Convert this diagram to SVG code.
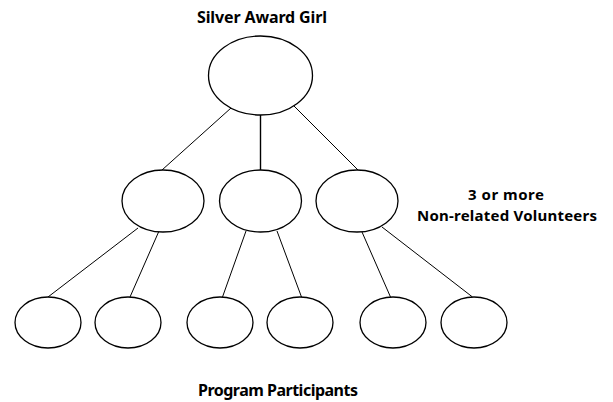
<svg xmlns="http://www.w3.org/2000/svg" width="613" height="402" viewBox="0 0 613 402">
<style>
.n{fill:#fff;stroke:#000;stroke-width:1.3}
.c line{stroke:#000;stroke-width:1}
.t{font-family:"Noto Sans","Open Sans",sans-serif;font-weight:bold;font-size:16px;fill:#000;text-anchor:middle}
.s{font-size:15px}
</style>
<rect width="613" height="402" fill="#fff"/>
<g class="c" id="connectors">
<line x1="231" y1="108" x2="162" y2="170"/>
<line x1="260.5" y1="115" x2="260.5" y2="170" style="stroke-width:1.4"/>
<line x1="294" y1="106" x2="358" y2="170"/>
<line x1="138" y1="228" x2="48" y2="297"/>
<line x1="159" y1="231" x2="130" y2="297"/>
<line x1="246" y1="231" x2="222.5" y2="297"/>
<line x1="277" y1="231" x2="301.5" y2="297"/>
<line x1="362" y1="232" x2="390.5" y2="297"/>
<line x1="382" y1="227" x2="472.5" y2="297"/>
</g>
<g id="top"><ellipse class="n" cx="260.5" cy="75.5" rx="52" ry="39.5"/></g>
<g id="mid1"><ellipse class="n" cx="163" cy="201" rx="41" ry="31"/></g>
<g id="mid2"><ellipse class="n" cx="260.5" cy="201" rx="41" ry="31"/></g>
<g id="mid3"><ellipse class="n" cx="357" cy="201" rx="41" ry="31"/></g>
<g id="b1"><ellipse class="n" cx="48" cy="322.5" rx="33" ry="25.5"/></g>
<g id="b2"><ellipse class="n" cx="128" cy="322.5" rx="33" ry="25.5"/></g>
<g id="b3"><ellipse class="n" cx="220" cy="322.5" rx="33" ry="25.5"/></g>
<g id="b4"><ellipse class="n" cx="300" cy="322.5" rx="33" ry="25.5"/></g>
<g id="b5"><ellipse class="n" cx="393" cy="322.5" rx="33" ry="25.5"/></g>
<g id="b6"><ellipse class="n" cx="474" cy="322.5" rx="33" ry="25.5"/></g>
<g id="labels">
<text class="t" x="262" y="23" textLength="130">Silver Award Girl</text>
<text class="t s" x="506" y="200" textLength="76">3 or more</text>
<text class="t s" x="507" y="220.5" textLength="180">Non-related Volunteers</text>
<text class="t" x="278" y="396" textLength="160">Program Participants</text>
</g>
</svg>
